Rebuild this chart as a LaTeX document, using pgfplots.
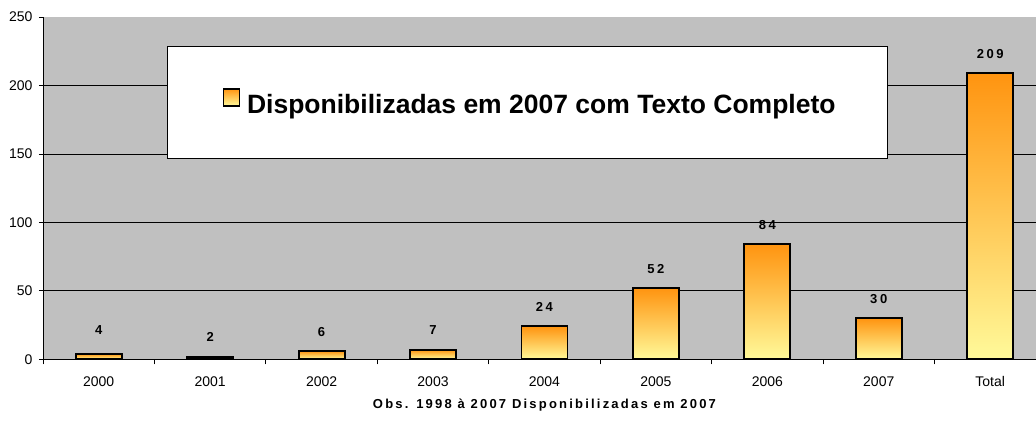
\documentclass[border=0pt]{standalone}
\usepackage{fontspec}
\setmainfont{Liberation Sans}
\newfontfamily\spacedfont[LetterSpace=20]{Liberation Sans}
\newfontfamily\titlefont[LetterSpace=17]{Liberation Sans}
\usepackage{pgfplots}
\pgfplotsset{compat=1.18}
\definecolor{plotgray}{HTML}{C0C0C0}
\definecolor{barTop}{HTML}{FF9410}
\definecolor{barBot}{HTML}{FFFA9A}
\pgfplotsset{
  mybar/.style={ybar, bar width=46pt, bar shift=0pt, draw=black, line width=1.9pt,
    top color=barTop, bottom color=barBot,
    nodes near coords,
    every node near coord/.append style={anchor=base, yshift=15pt, text=black,
      font=\fontsize{13}{15}\spacedfont\bfseries}},
}
\begin{document}
\begin{tikzpicture}
\useasboundingbox (-43pt,-61.7pt) rectangle (993pt,359.3pt);
\begin{axis}[
  at={(0pt,0pt)}, anchor=south west,
  scale only axis, width=1003pt, height=342.3pt,
  xmin=-0.5, xmax=8.5, ymin=0, ymax=250,
  axis lines*=left,
  axis line style={black, line width=0.8pt},
  axis background/.style={fill=plotgray},
  xtick={0,1,2,3,4,5,6,7,8},
  xticklabels={2000,2001,2002,2003,2004,2005,2006,2007,Total},
  major x tick style={draw=none},
  minor xtick={-0.5,0.5,1.5,2.5,3.5,4.5,5.5,6.5,7.5,8.5},
  minor tick length=5pt,
  tick align=outside,
  ytick={0,50,100,150,200,250},
  major tick length=4pt,
  tick style={black, line width=0.8pt},
  extra y ticks={50,100,150,200},
  extra y tick labels={},
  extra y tick style={grid=major, major grid style={black, line width=0.8pt}, major tick length=0pt},
  ticklabel style={font=\fontsize{14}{16}\selectfont},
  xticklabel style={yshift=-10pt},
  yticklabel style={xshift=-3pt},
  /pgf/number format/assume math mode=true,
  xlabel={Obs. 1998 à 2007 Disponibilizadas em 2007},
  xlabel style={at={(axis description cs:0.5,0)}, anchor=base, yshift=-49pt,
    font=\fontsize{13}{15}\titlefont\bfseries},
  legend style={at={(0.1236,0.915)}, anchor=north west, draw=black, line width=0.8pt,
    fill=white, inner xsep=50pt, inner ysep=41.5pt,
    font=\fontsize{26.5}{30}\selectfont\bfseries},
  legend cell align=left,
  legend image code/.code={\path (0pt,0pt); \draw[black, line width=1.5pt, top color=barTop, bottom color=barBot] (5pt,-1pt) rectangle (21pt,16pt);},
]
\addplot[mybar, every node near coord/.append style={yshift=4pt}] coordinates {(0,4)};
\addlegendentry{\hspace*{5pt}Disponibilizadas em 2007 com Texto Completo}
\addplot[mybar, forget plot] coordinates {(1,2)};
\addplot[mybar, forget plot] coordinates {(2,6)};
\addplot[mybar, forget plot] coordinates {(3,7)};
\addplot[mybar, forget plot] coordinates {(4,24)};
\addplot[mybar, forget plot] coordinates {(5,52)};
\addplot[mybar, forget plot] coordinates {(6,84)};
\addplot[mybar, forget plot] coordinates {(7,30)};
\addplot[mybar, forget plot] coordinates {(8,209)};
\end{axis}
\end{tikzpicture}
\end{document}
